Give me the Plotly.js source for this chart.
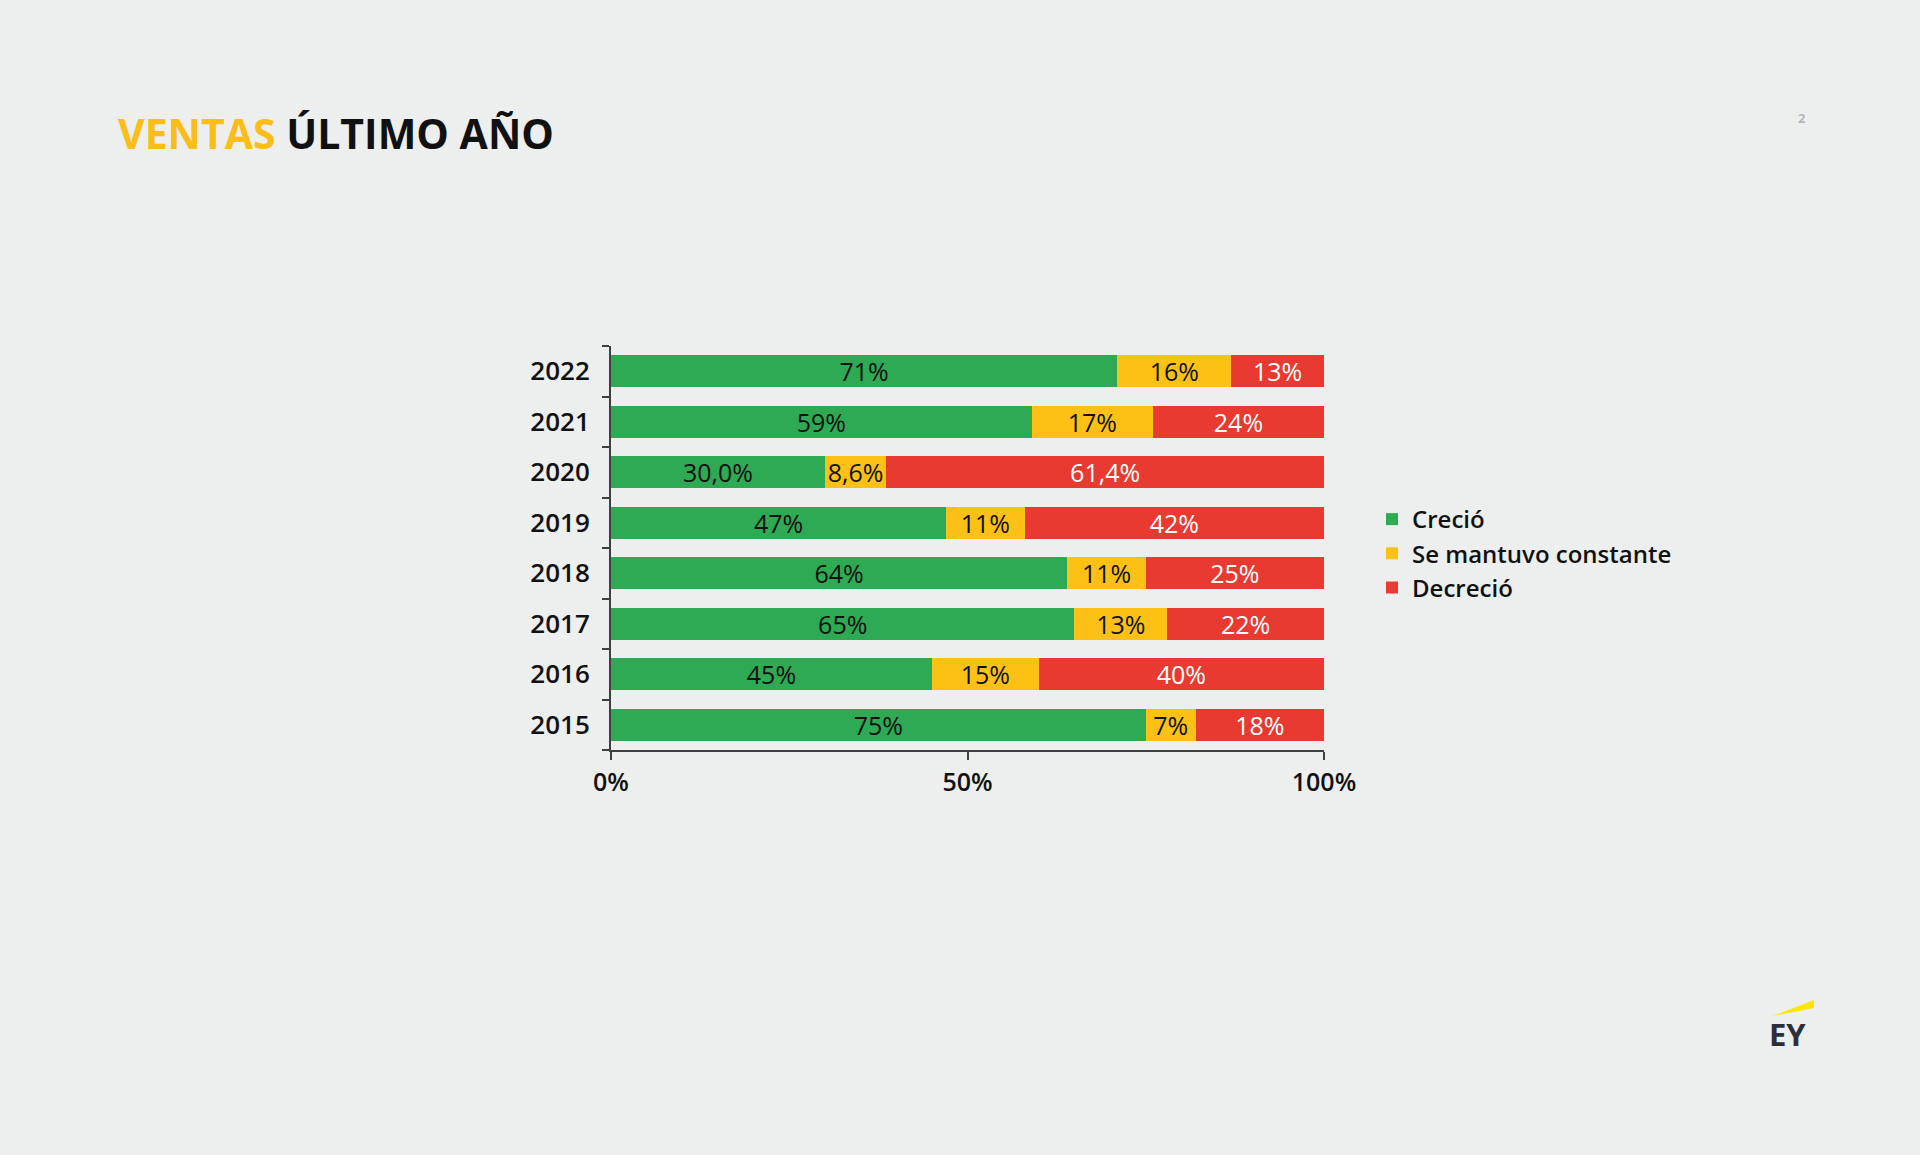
<!DOCTYPE html>
<html>
<head>
<meta charset="utf-8">
<script src="https://cdn.plot.ly/plotly-3.0.1.min.js"></script>
<style>
  html, body { margin: 0; padding: 0; background: #EDEFEE; }
  #chart { width: 1920px; height: 1155px; }
</style>
</head>
<body>
<div id="chart"></div>
<script>
// ---- Data ----
const years = ['2015', '2016', '2017', '2018', '2019', '2020', '2021', '2022'];
const crecio = [75, 45, 65, 64, 47, 30.0, 59, 71];
const constante = [7, 15, 13, 11, 11, 8.6, 17, 16];
const decrecio = [18, 40, 22, 25, 42, 61.4, 24, 13];
const decimals = [0, 0, 0, 0, 0, 1, 0, 0];
const seriesNames = ['Creció', 'Se mantuvo constante', 'Decreció'];
const xTickVals = [0, 50, 100];
const xTickText = xTickVals.map(v => v + '%');

// ---- Styles ----
const colors = ['#2DAA53', '#FDC116', '#E83A30'];
const labelColors = ['#111111', '#111111', '#FFFFFF'];
const FONT = 'Open Sans, Noto Sans, sans-serif';

// plot area in pixels
const L = 611, R = 596, T = 346, B = 405;
const W = 1920 - L - R, H = 1155 - T - B;
const px = x => (x - L) / W;
const py = y => (1155 - B - y) / H;

const tmpl = decimals.map(d => '%{x:.' + d + 'f}%');

const traces = [crecio, constante, decrecio].map((vals, i) => ({
  type: 'bar',
  orientation: 'h',
  name: seriesNames[i],
  y: years,
  x: vals,
  marker: { color: colors[i] },
  texttemplate: tmpl,
  textposition: 'inside',
  insidetextanchor: 'middle',
  textangle: 0,
  constraintext: 'none',
  insidetextfont: { family: FONT, size: 25, color: labelColors[i] },
  hoverinfo: 'skip'
}));

const layout = {
  width: 1920,
  height: 1155,
  paper_bgcolor: '#EDEFEE',
  plot_bgcolor: '#EDEFEE',
  separators: ',.',
  barmode: 'stack',
  bargap: 0.37,
  margin: { l: L, r: R, t: T, b: B, pad: 0, autoexpand: false },
  font: { family: FONT, color: '#111111' },
  title: {
    text: '<span style="color:#FBBD16">VENTAS</span> ÚLTIMO AÑO',
    font: { family: FONT, size: 41, weight: 700, color: '#111111' },
    xref: 'container', yref: 'container',
    x: 118 / 1920, xanchor: 'left',
    y: 1 - 135 / 1155, yanchor: 'middle'
  },
  xaxis: {
    range: [0, 100],
    tickmode: 'array',
    tickvals: xTickVals,
    ticktext: xTickText,
    showgrid: false,
    zeroline: false,
    showline: true,
    linecolor: '#3F3F3F',
    linewidth: 2,
    ticks: 'outside',
    ticklen: 8,
    tickwidth: 2,
    tickcolor: '#3F3F3F',
    tickfont: { family: FONT, size: 25, weight: 600, color: '#111111' },
    ticklabelstandoff: 1,
    fixedrange: true
  },
  yaxis: {
    type: 'category',
    showgrid: false,
    zeroline: false,
    showline: true,
    linecolor: '#3F3F3F',
    linewidth: 2,
    ticks: 'outside',
    tickson: 'boundaries',
    ticklen: 7,
    tickwidth: 2,
    tickcolor: '#3F3F3F',
    tickfont: { family: FONT, size: 26, weight: 600, color: '#111111' },
    ticklabelstandoff: 14,
    fixedrange: true
  },
  showlegend: true,
  legend: {
    x: px(1372), xanchor: 'left',
    y: py(553.5), yanchor: 'middle',
    traceorder: 'normal',
    bgcolor: 'rgba(0,0,0,0)',
    font: { family: FONT, size: 24, weight: 600, color: '#111111' }
  },
  annotations: [
    {
      text: '2', xref: 'paper', yref: 'paper',
      x: px(1802), y: py(118), xanchor: 'center', yanchor: 'middle',
      showarrow: false,
      font: { family: FONT, size: 13, weight: 700, color: '#B3B6BE' }
    },
    {
      text: 'EY', xref: 'paper', yref: 'paper',
      x: px(1787), y: py(1034), xanchor: 'center', yanchor: 'middle',
      showarrow: false,
      font: { family: FONT, size: 31, weight: 700, color: '#2E2E38' }
    }
  ],
  shapes: [
    {
      type: 'path', xref: 'paper', yref: 'paper',
      path: 'M' + px(1773) + ',' + py(1016) + ' L' + px(1814) + ',' + py(1000) +
            ' L' + px(1814) + ',' + py(1008) + ' Z',
      fillcolor: '#FFE600', line: { width: 0 }
    }
  ]
};

Plotly.newPlot('chart', traces, layout, { staticPlot: true, displayModeBar: false });
</script>
</body>
</html>
